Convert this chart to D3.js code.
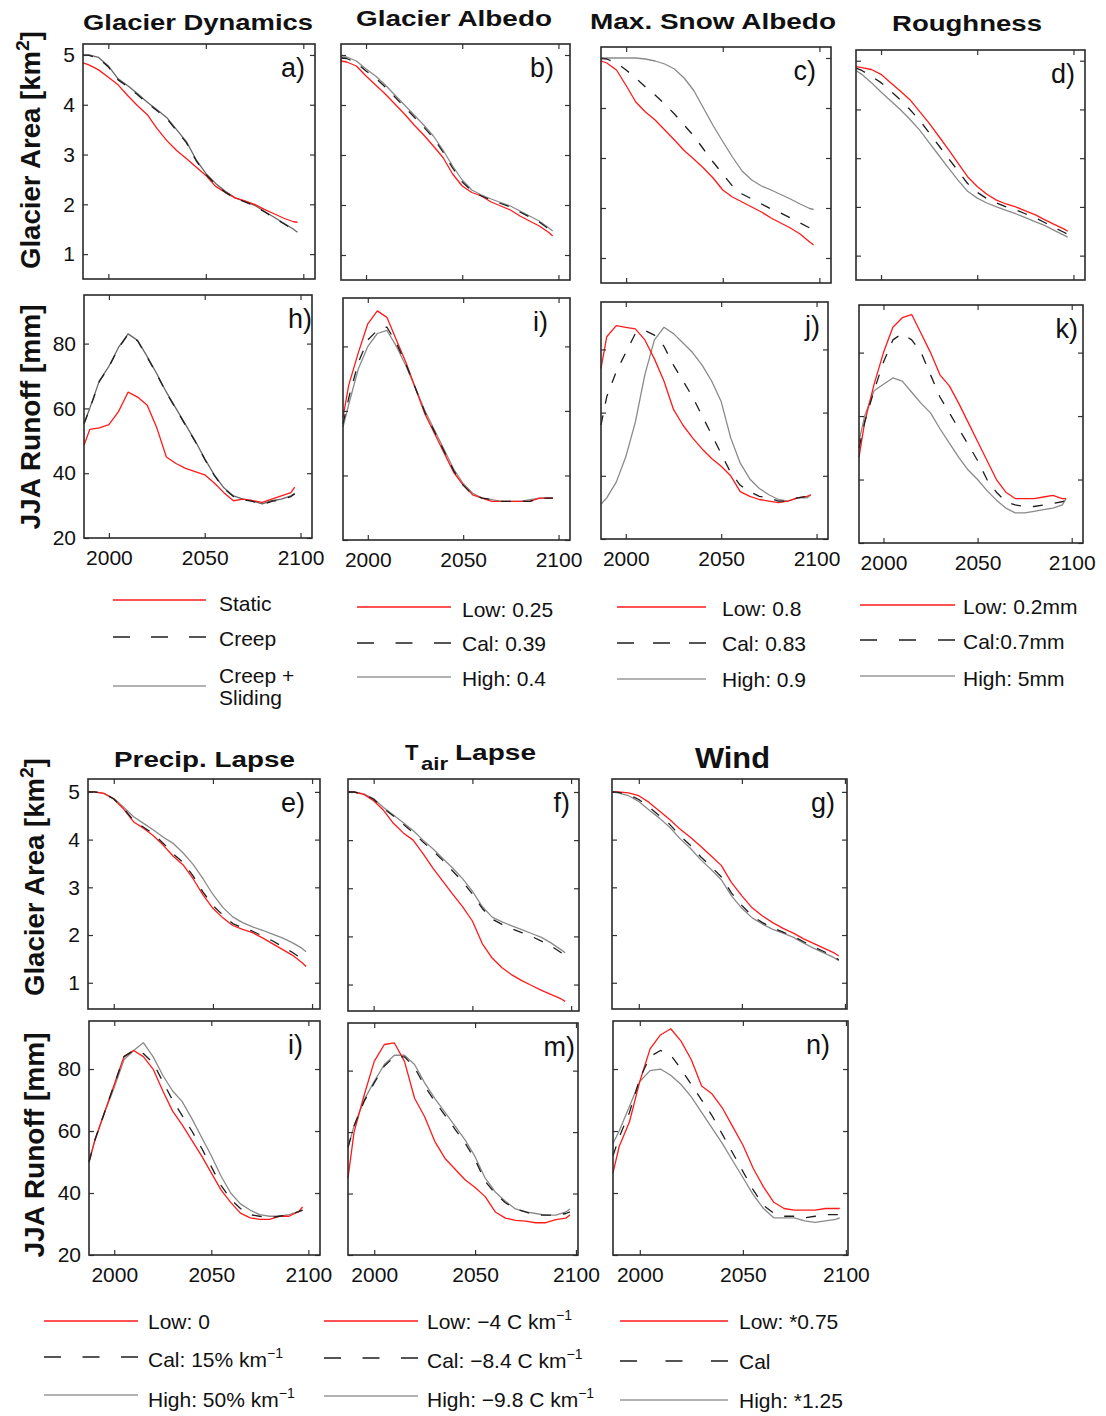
<!DOCTYPE html>
<html>
<head>
<meta charset="utf-8">
<script src="https://cdn.jsdelivr.net/npm/d3@7"></script>
<style>
  html, body { margin: 0; padding: 0; background: #fff; }
  svg { display: block; font-family: "Liberation Sans", Arial, sans-serif; }
</style>
</head>
<body>
<svg id="chart" width="1106" height="1416"></svg>
<script>
// Simulation years shared by every series
const years = [1987,1990,1995,2000,2005,2010,2015,2020,2025,2030,2035,2040,2045,2050,2055,2060,2065,2070,2075,2080,2085,2090,2095,2097];

// Glacier area [km2]
const aStatic  = [4.84,4.80,4.70,4.55,4.40,4.18,3.98,3.80,3.52,3.28,3.08,2.92,2.75,2.58,2.36,2.24,2.13,2.07,2.00,1.90,1.81,1.72,1.65,1.64];
const aCreep   = [4.99,4.99,4.93,4.76,4.50,4.36,4.20,4.03,3.88,3.72,3.48,3.24,2.88,2.60,2.40,2.24,2.12,2.05,1.97,1.85,1.73,1.61,1.49,1.43];
const aSliding = [5.00,5.00,4.95,4.78,4.52,4.38,4.22,4.05,3.90,3.74,3.50,3.26,2.90,2.62,2.42,2.26,2.13,2.06,1.98,1.86,1.74,1.62,1.50,1.44];

const bLow  = [4.88,4.86,4.78,4.58,4.40,4.22,4.02,3.82,3.60,3.40,3.18,2.95,2.62,2.38,2.25,2.18,2.06,1.98,1.90,1.78,1.68,1.58,1.45,1.38];
const bCal  = [4.94,4.93,4.84,4.68,4.54,4.36,4.16,3.96,3.76,3.56,3.34,3.06,2.74,2.46,2.28,2.18,2.10,2.03,1.96,1.86,1.76,1.66,1.52,1.46];
const bHigh = [4.96,4.96,4.88,4.72,4.58,4.40,4.20,4.00,3.80,3.60,3.38,3.10,2.78,2.50,2.30,2.20,2.12,2.05,1.98,1.88,1.78,1.68,1.54,1.48];

const cLow  = [4.94,4.90,4.76,4.45,4.12,3.92,3.76,3.56,3.36,3.15,2.98,2.80,2.60,2.36,2.22,2.12,2.02,1.92,1.80,1.70,1.60,1.48,1.32,1.26];
const cCal  = [5.00,4.98,4.90,4.76,4.60,4.42,4.26,4.08,3.88,3.66,3.44,3.18,2.92,2.68,2.44,2.28,2.18,2.08,1.98,1.90,1.80,1.70,1.60,1.56];
const cHigh = [4.98,5.00,5.00,5.00,5.00,4.98,4.94,4.88,4.78,4.60,4.35,4.00,3.65,3.33,3.02,2.74,2.56,2.44,2.36,2.27,2.18,2.08,1.99,1.97];

const dLow  = [4.88,4.86,4.82,4.72,4.55,4.38,4.20,3.96,3.72,3.45,3.18,2.90,2.62,2.42,2.26,2.14,2.06,2.00,1.92,1.84,1.74,1.64,1.55,1.50];
const dCal  = [4.85,4.80,4.68,4.55,4.38,4.20,4.00,3.78,3.52,3.26,3.00,2.74,2.48,2.30,2.17,2.08,2.00,1.94,1.86,1.78,1.68,1.58,1.48,1.44];
const dHigh = [4.80,4.72,4.55,4.36,4.18,4.00,3.80,3.58,3.32,3.06,2.80,2.55,2.32,2.18,2.08,2.00,1.93,1.86,1.78,1.70,1.62,1.52,1.42,1.38];

const eLow  = [5.00,5.00,4.97,4.85,4.64,4.37,4.24,4.08,3.88,3.65,3.47,3.18,2.84,2.56,2.36,2.20,2.12,2.05,1.94,1.82,1.70,1.58,1.42,1.34];
const eCal  = [5.00,5.00,4.97,4.85,4.65,4.40,4.26,4.12,3.92,3.70,3.52,3.24,2.90,2.62,2.42,2.24,2.15,2.08,1.98,1.88,1.76,1.64,1.50,1.44];
const eHigh = [5.00,5.00,4.97,4.86,4.68,4.48,4.34,4.20,4.05,3.92,3.72,3.48,3.18,2.85,2.58,2.38,2.26,2.17,2.10,2.02,1.94,1.84,1.72,1.65];

const fLow  = [5.00,5.00,4.95,4.82,4.62,4.35,4.15,4.00,3.72,3.42,3.15,2.88,2.62,2.32,1.85,1.55,1.35,1.20,1.08,0.98,0.88,0.79,0.70,0.65];
const fCal  = [5.00,5.00,4.96,4.85,4.66,4.50,4.33,4.16,3.96,3.78,3.58,3.36,3.14,2.88,2.58,2.36,2.25,2.16,2.08,2.00,1.90,1.80,1.66,1.60];
const fHigh = [5.00,5.00,4.96,4.86,4.68,4.52,4.36,4.20,4.00,3.82,3.62,3.42,3.20,2.94,2.62,2.40,2.30,2.22,2.14,2.06,1.98,1.86,1.72,1.66];

const gLow  = [5.00,5.00,4.98,4.92,4.78,4.60,4.42,4.22,4.05,3.86,3.66,3.46,3.10,2.82,2.57,2.40,2.26,2.14,2.04,1.92,1.82,1.72,1.62,1.56];
const gCal  = [5.00,4.99,4.94,4.84,4.68,4.50,4.32,4.08,3.88,3.64,3.44,3.22,2.88,2.62,2.40,2.26,2.15,2.06,1.97,1.86,1.75,1.65,1.54,1.48];
const gHigh = [5.00,4.98,4.92,4.80,4.62,4.45,4.26,4.02,3.82,3.58,3.38,3.16,2.82,2.56,2.36,2.23,2.12,2.04,1.95,1.83,1.72,1.62,1.52,1.46];

// JJA runoff [mm]
const hStatic  = [48.6,53.5,54.0,55.0,59.0,65.0,63.5,61.0,54.0,45.0,43.0,41.5,40.5,39.5,37.0,34.0,31.5,32.0,31.5,31.0,32.0,33.0,34.0,35.7];
const hCreep   = [55.2,59.8,68.3,72.8,78.6,82.8,80.8,75.8,70.5,64.8,59.8,54.8,49.8,44.3,39.3,35.3,32.8,31.8,31.3,30.3,31.3,31.8,32.8,33.6];
const hSliding = [55.4,60.0,68.5,73.0,78.8,83.0,81.0,76.0,70.7,65.0,60.0,55.0,50.0,44.5,39.5,35.5,33.0,32.0,31.5,30.5,31.5,32.0,33.0,33.8];

const iLow  = [58,68,78,87,91,89,82,75,67,59,53,47,41,37,34,33,32,32,32,32,32,33,33,33];
const iCal  = [56,64,75,82,85,86,81,74.5,67,59.5,53.5,47.5,41.5,37,34,33,32.5,32,32,32,32,33,33,33];
const iHigh = [55,62,73,80,84,85,80,74,67,60,54,48,42,37.5,34.5,33,32.5,32,32,32,32.5,33,33,33];

const jLow  = [74,84,87.5,87,86.5,83,77,70,61,56,52,48.5,45.5,43,40,35,33.5,32.5,32,31.5,32,33,33.5,34];
const jCal  = [56,65,73,79,85,86,84.5,81,75,70,65,59,53,47,41,37,35,33.5,33,32,32,33,33.5,34];
const jHigh = [31,33,38,46,57,72,83,87,85,82,79,75,70,63.5,52,44,39,36,34,32.5,32,33,33,34];

const kLow  = [47,58,70,80,88,91,92,86,80,73,69.5,64,58,52,46,40,36,34,34,34,34.5,35,34,34];
const kCal  = [50,58,68,77,84,86,84,80,73,66,61,56,51,46,40,36,33,32,31.5,31.5,32,32.5,33,33.5];
const kHigh = [52,60,68,70,72,71,67.5,64,61,56,51.5,47,43,40,36.5,33.5,31,29.5,29.5,30,30.5,31,32,34];

const lLow  = [50,57,66,75,84,86,84,80,73,66.5,62,57,52,46.5,41,37,33.5,32,31.5,31.5,32.5,32.5,34,35.5];
const lCal  = [50,57,66,75,84,86,85,82,76,70,65,60,54.5,48.5,42.5,38,35,33,32.5,32,32.5,33,34,34.5];
const lHigh = [50,57,66,74,83,86,88.5,84,78,73,69.5,64,58,52,45.5,40,36.5,34.5,33,32.5,32.5,33,34,34.5];

const mLow  = [45,60,72,83,88.5,89,83,71,65,57,51.5,48,44.5,42,39,34,32,31.3,31,30.5,30.5,31.5,32,33];
const mCal  = [55,62,70,76,81.5,84.5,84.5,81,75,70,65.5,61,56.5,51,44,40,37,35,34,33,33,33,33.5,34];
const mHigh = [55,62,70.5,76.5,82,85,85,82,76,71,66.5,62,57.5,52,45,40.5,37.5,35,34,33.5,33,33,34,35];

const nLow  = [46.5,55,63,76,86.5,91,93,89,83,74.5,72,67.5,61.5,55.5,48,42,37,35,34.5,34.5,34.5,35,35,35];
const nCal  = [52,58,66,77,84,86,84.5,80,75,70,65,59,53,47,41,36,33.5,32.5,32.5,32,32.5,33,33,33];
const nHigh = [56,60,68,76,79.5,80,78,75,71,66,61,56,50.5,45,39.5,35,32,32,32,31,30.5,31,31.5,32];

// Axis ticks
const areaTicks = [1, 2, 3, 4, 5];
const runoffTicks = [20, 40, 60, 80];
const yearTicks = [2000, 2050, 2100];

// Column headings and legends
const titlesTop = ["Glacier Dynamics", "Glacier Albedo", "Max. Snow Albedo", "Roughness"];
const titlesBottom = ["Precip. Lapse", "Tair Lapse", "Wind"];
const panelLetters = ["a)", "b)", "c)", "d)", "h)", "i)", "j)", "k)", "e)", "f)", "g)", "i)", "m)", "n)"];
const legendDynamics = ["Static", "Creep", "Creep +|Sliding"];
const legendGlacierAlbedo = ["Low: 0.25", "Cal: 0.39", "High: 0.4"];
const legendSnowAlbedo = ["Low: 0.8", "Cal: 0.83", "High: 0.9"];
const legendRoughness = ["Low: 0.2mm", "Cal:0.7mm", "High: 5mm"];
const legendPrecip = ["Low: 0", "Cal: 15% km^\u22121", "High: 50% km^\u22121"];
const legendTair = ["Low: \u22124 C km^\u22121", "Cal: \u22128.4 C km^\u22121", "High: \u22129.8 C km^\u22121"];
const legendWind = ["Low: *0.75", "Cal", "High: *1.25"];

const RED = "#ff1a1a", DARK = "#1e1e1e", GRAY = "#8a8a8a", DYNGRAY = "#666";
const styleLow  = { color: RED,  dash: null };
const styleCal  = { color: DARK, dash: "10,12" };
const styleHigh = { color: GRAY, dash: null };
const styleSlide = { color: DYNGRAY, dash: null };

const svg = d3.select("#chart");

// Panel geometry: [left, top, right, bottom], x-domain end, letter inset
const panels = [
  { box: [83, 44, 315, 279],   x1: 2106, li: 10, kind: "area",   yTicks: true,  xLabels: false, series: [[aSliding, styleSlide], [aStatic, styleLow], [aCreep, styleCal]] },
  { box: [341, 44, 570, 280],  x1: 2106, li: 16, kind: "area",   yTicks: false, xLabels: false, series: [[bHigh, styleHigh], [bLow, styleLow], [bCal, styleCal]] },
  { box: [601, 47, 831, 283],  x1: 2106, li: 15, kind: "area",   yTicks: false, xLabels: false, series: [[cHigh, styleHigh], [cLow, styleLow], [cCal, styleCal]] },
  { box: [856, 50, 1085, 280], x1: 2106, li: 10, kind: "area",   yTicks: false, xLabels: false, series: [[dHigh, styleHigh], [dLow, styleLow], [dCal, styleCal]] },
  { box: [84, 295, 312, 538],  x1: 2106, li: 0,  kind: "runoff", yTicks: true,  xLabels: true,  series: [[hSliding, styleSlide], [hStatic, styleLow], [hCreep, styleCal]] },
  { box: [343, 298, 570, 540], x1: 2106, li: 22, kind: "runoff", yTicks: false, xLabels: true,  series: [[iHigh, styleHigh], [iLow, styleLow], [iCal, styleCal]] },
  { box: [601, 302, 828, 539], x1: 2106, li: 8,  kind: "runoff", yTicks: false, xLabels: true,  series: [[jHigh, styleHigh], [jLow, styleLow], [jCal, styleCal]] },
  { box: [859, 305, 1083, 543],x1: 2106, li: 5,  kind: "runoff", yTicks: false, xLabels: true,  series: [[kHigh, styleHigh], [kLow, styleLow], [kCal, styleCal]] },
  { box: [88, 779, 320, 1009], x1: 2104, li: 15, kind: "area2",  yTicks: true,  xLabels: false, series: [[eHigh, styleHigh], [eLow, styleLow], [eCal, styleCal]] },
  { box: [348, 779, 579, 1011],x1: 2104, li: 9,  kind: "area2",  yTicks: false, xLabels: false, series: [[fHigh, styleHigh], [fLow, styleLow], [fCal, styleCal]] },
  { box: [612, 779, 847, 1009],x1: 2101, li: 12, kind: "area2",  yTicks: false, xLabels: false, series: [[gHigh, styleHigh], [gLow, styleLow], [gCal, styleCal]] },
  { box: [89, 1021, 320, 1255],x1: 2106, li: 17, kind: "runoff2",yTicks: true,  xLabels: true,  series: [[lHigh, styleHigh], [lLow, styleLow], [lCal, styleCal]] },
  { box: [348, 1023, 578, 1255],x1: 2101,li: 3,  kind: "runoff2",yTicks: false, xLabels: true,  series: [[mHigh, styleHigh], [mLow, styleLow], [mCal, styleCal]] },
  { box: [613, 1021, 848, 1255],x1: 2101,li: 18, kind: "runoff2",yTicks: false, xLabels: true,  series: [[nHigh, styleHigh], [nLow, styleLow], [nCal, styleCal]] }
];

const yDomains = {
  area: [0.5, 5.22], area2: [0.45, 5.27],
  runoff: [20, 95], runoff2: [20, 95.5]
};

const FONT = "'Liberation Sans', Arial, sans-serif";

panels.forEach((p, idx) => {
  const [L, T, R, B] = p.box;
  const x = d3.scaleLinear().domain([1987, p.x1]).range([L, R]);
  const y = d3.scaleLinear().domain(yDomains[p.kind]).range([B, T]);
  const isArea = p.kind.startsWith("area");
  const yt = isArea ? areaTicks : runoffTicks;
  const g = svg.append("g");

  // series
  const line = d3.line().x((d, i) => x(years[i])).y(d => y(d));
  p.series.forEach(([vals, st]) => {
    g.append("path")
      .attr("d", line(vals))
      .attr("fill", "none")
      .attr("stroke", st.color)
      .attr("stroke-width", 1.3)
      .attr("stroke-dasharray", st.dash)
      .attr("stroke-linejoin", "round");
  });

  // inward ticks on all four sides
  const axisStyle = sel => {
    sel.select(".domain").remove();
    sel.selectAll(".tick line").attr("stroke", "#333").attr("stroke-width", 1.2);
    sel.selectAll(".tick text").attr("fill", "#111").attr("font-size", 21).attr("font-family", FONT);
  };
  g.append("g").attr("transform", `translate(${L},0)`)
    .call(d3.axisLeft(y).tickValues(yt).tickSize(-5).tickPadding(8)
      .tickFormat(p.yTicks ? d3.format("d") : () => ""))
    .call(axisStyle);
  g.append("g").attr("transform", `translate(${R},0)`)
    .call(d3.axisRight(y).tickValues(yt).tickSize(-5).tickFormat(() => ""))
    .call(axisStyle);
  const xt = yearTicks.filter(v => v <= p.x1);
  g.append("g").attr("transform", `translate(0,${B})`)
    .call(d3.axisBottom(x).tickValues(xt).tickSize(-5).tickPadding(12)
      .tickFormat(p.xLabels ? d3.format("d") : () => ""))
    .call(axisStyle);
  g.append("g").attr("transform", `translate(0,${T})`)
    .call(d3.axisTop(x).tickValues(xt).tickSize(-5).tickFormat(() => ""))
    .call(axisStyle);

  // frame
  g.append("rect").attr("x", L).attr("y", T).attr("width", R - L).attr("height", B - T)
    .attr("fill", "none").attr("stroke", "#2a2a2a").attr("stroke-width", 1.6);

  // panel letter
  g.append("text").attr("x", R - p.li).attr("y", T + 33).attr("text-anchor", "end")
    .attr("font-size", 27).attr("fill", "#111").text(panelLetters[idx]);
});

// column headings
function heading(x, y, size, width, text) {
  return svg.append("text").attr("x", x).attr("y", y)
    .attr("font-size", size).attr("font-weight", "bold").attr("fill", "#111")
    .attr("textLength", width).attr("lengthAdjust", "spacingAndGlyphs").text(text);
}
heading(83, 30, 22, 230, titlesTop[0]);
heading(356, 26, 22, 196, titlesTop[1]);
heading(590, 29, 22, 246, titlesTop[2]);
heading(892, 31, 22, 150, titlesTop[3]);
heading(114, 767, 22, 181, titlesBottom[0]);
{
  const t = svg.append("text").attr("y", 760)
    .attr("font-size", 22).attr("font-weight", "bold").attr("fill", "#111");
  t.append("tspan").attr("x", 405).text(titlesBottom[1].slice(0, 1));
  t.append("tspan").attr("x", 421).attr("dy", 10).attr("font-size", 19)
    .attr("textLength", 27).attr("lengthAdjust", "spacingAndGlyphs").text(titlesBottom[1].slice(1, 4));
  t.append("tspan").attr("dy", -10).attr("x", 455).text(titlesBottom[1].slice(4).trim())
    .attr("textLength", 81).attr("lengthAdjust", "spacingAndGlyphs");
}
heading(695, 768, 29, 75, titlesBottom[2]);

// y-axis titles
function yTitle(cx, cy, label, sup, len) {
  const t = svg.append("text").attr("transform", `translate(${cx},${cy}) rotate(-90)`)
    .attr("text-anchor", "middle").attr("font-size", 27).attr("font-weight", "bold").attr("fill", "#111")
    .attr("textLength", len).attr("lengthAdjust", "spacingAndGlyphs");
  if (sup) {
    t.append("tspan").text(label + "[km");
    t.append("tspan").attr("dy", -11).attr("font-size", 19).text("2");
    t.append("tspan").attr("dy", 11).text("]");
  } else {
    t.text(label);
  }
}
yTitle(40, 150, "Glacier Area ", true, 238);
yTitle(40, 417, "JJA Runoff [mm]", false, 225);
yTitle(44, 877, "Glacier Area ", true, 238);
yTitle(44, 1145, "JJA Runoff [mm]", false, 225);

// legends
const legendStyles = [styleLow, styleCal, styleHigh];
function legend(entries, x0, x1, tx, rows, texts) {
  entries.forEach((label, i) => {
    const st = legendStyles[i];
    const ly = rows[i];
    svg.append("line").attr("x1", x0).attr("x2", x1).attr("y1", ly).attr("y2", ly)
      .attr("stroke", i === 2 ? "#999" : st.color).attr("stroke-width", 1.6)
      .attr("stroke-dasharray", st.dash ? `17,${((x1 - x0) - 51) / 2}` : null);
    const lines = label.split("|");
    lines.forEach((ln, k) => {
      const t = svg.append("text").attr("x", tx).attr("y", texts[i] + k * 22)
        .attr("font-size", 21).attr("fill", "#111");
      const parts = ln.split("^");
      t.append("tspan").text(parts[0]);
      if (parts[1]) t.append("tspan").attr("dy", -9).attr("font-size", 14).text(parts[1]);
    });
  });
}
legend(legendDynamics, 113, 206, 219, [600, 637, 686], [611, 646, 683]);
legend(legendGlacierAlbedo, 357, 451, 462, [607, 643, 677], [617, 651, 686]);
legend(legendSnowAlbedo, 617, 706, 722, [607, 643, 679], [616, 651, 687]);
legend(legendRoughness, 860, 955, 963, [605, 640, 676], [614, 649, 686]);
legend(legendPrecip, 44, 138, 148, [1321, 1357, 1395], [1329, 1367, 1407]);
legend(legendTair, 324, 418, 427, [1321, 1358, 1396], [1329, 1368, 1407]);
legend(legendWind, 620, 728, 739, [1321, 1361, 1400], [1329, 1369, 1408]);
</script>
</body>
</html>
